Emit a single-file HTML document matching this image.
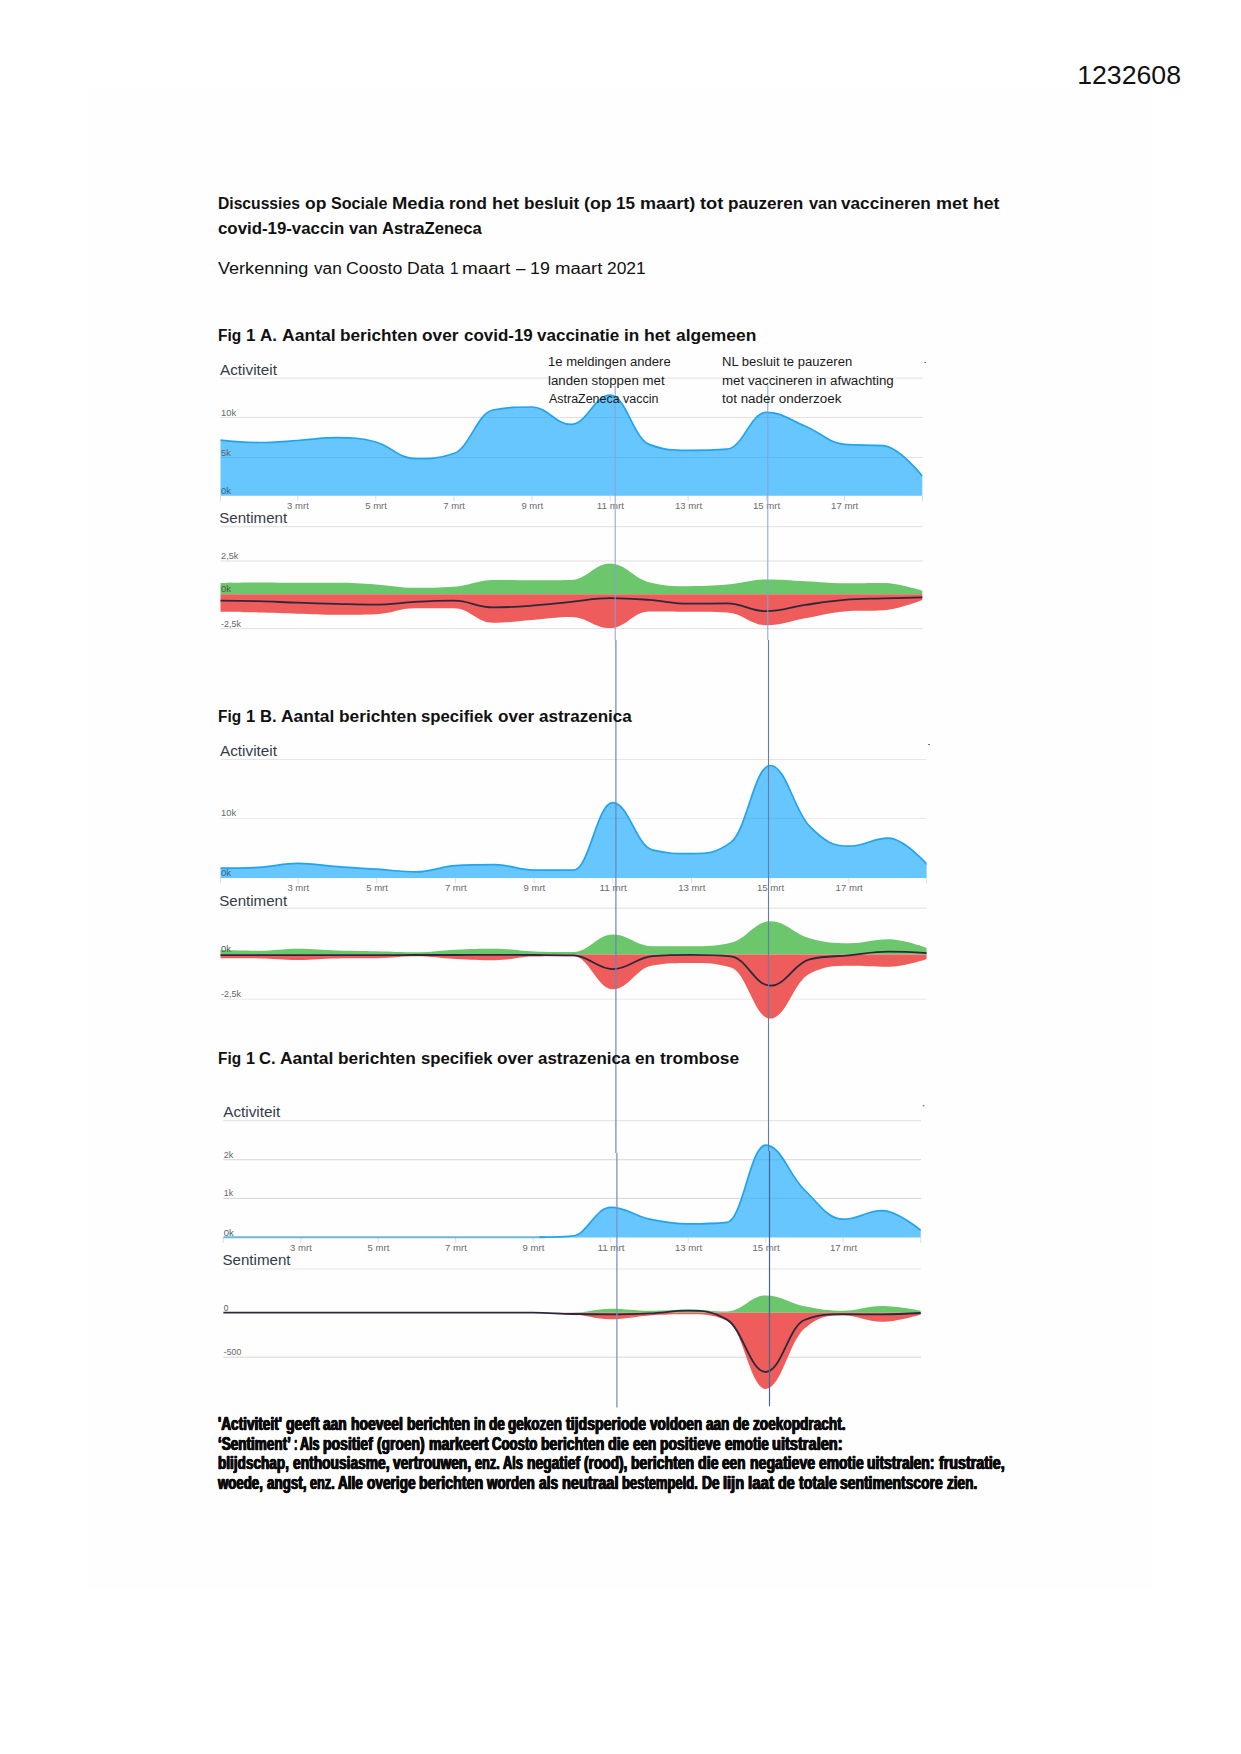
<!DOCTYPE html>
<html lang="nl"><head><meta charset="utf-8"><title>Discussies op Sociale Media - AstraZeneca</title>
<style>
html,body{margin:0;padding:0;background:#fff}
body{width:1241px;height:1754px;position:relative;overflow:hidden;font-family:"Liberation Sans",sans-serif;color:#111}
.page{position:absolute;left:0;top:0;width:1241px;height:1754px}
.ln{position:absolute;left:0;margin:0;padding:0;white-space:pre;font-weight:400;width:1241px}
.ln span{position:absolute;top:0;display:block;transform-origin:0 0;white-space:pre}
.ann{color:#1a1a1a}
.imp{color:#0b0b0b;-webkit-text-stroke:0.55px #0b0b0b;text-shadow:0.6px 0 0 #0b0b0b,-0.6px 0 0 #0b0b0b}
svg{position:absolute;left:0;top:0}
.scan{position:absolute;left:88px;top:89px;width:1065px;height:1501px;background:#fefefe}
svg text{font-family:"Liberation Sans",sans-serif}
</style></head><body><main class="page">
<div class="scan"></div>
<svg width="1241" height="1754" viewBox="0 0 1241 1754">
<g id="chartA">
<clipPath id="clipA"><rect x="220.5" y="348.2" width="702.1" height="320"/></clipPath>
<path d="M220.5 378.2H922.6" stroke="#e6e6e6" stroke-width="1.2"/>
<path d="M220.5 417.5H922.6" stroke="#dadada" stroke-width="0.85"/>
<path d="M220.5 457.5H922.6" stroke="#dadada" stroke-width="0.85"/>
<path d="M220.5 526.7H922.6" stroke="#e6e6e6" stroke-width="1.2"/>
<path d="M220.5 561H922.6" stroke="#dadada" stroke-width="0.85"/>
<path d="M220.5 628.6H922.6" stroke="#dadada" stroke-width="0.85"/>
<path d="M220.5 495.7v5.5M297.7 495.7v5.5M375.8 495.7v5.5M453.9 495.7v5.5M532.0 495.7v5.5M610.1 495.7v5.5M688.2 495.7v5.5M766.3 495.7v5.5M844.4 495.7v5.5M922.5 495.7v5.5" stroke="#cfd6e0" stroke-width="0.8" fill="none"/>
<g clip-path="url(#clipA)">
<clipPath id="aclipA"><path d="M219.6 440.0C219.6 440.0 243.0 442.5 258.6 442.5C274.3 442.5 282.1 441.5 297.7 440.5C313.3 439.5 321.1 437.7 336.8 437.7C352.4 437.7 360.2 437.8 375.8 442.0C391.4 446.2 399.2 458.7 414.9 458.7C430.5 458.7 438.3 458.7 453.9 453.5C469.5 448.3 477.3 413.0 492.9 410.0C508.6 407.0 516.4 407.0 532.0 407.0C547.6 407.0 555.4 424.4 571.0 424.4C586.7 424.4 594.5 395.0 610.1 395.0C625.7 395.0 633.5 438.4 649.1 444.4C664.8 450.4 672.6 450.4 688.2 450.4C703.8 450.4 711.6 450.4 727.2 449.2C742.9 448.0 750.7 412.3 766.3 412.3C781.9 412.3 789.7 419.8 805.4 426.2C821.0 432.6 828.8 443.1 844.4 444.4C860.0 445.7 867.8 444.4 883.4 445.7C899.1 447.0 922.5 476.2 922.5 476.2L922.5 495.7L219.6 495.7Z"/></clipPath>
<path d="M219.6 440.0C219.6 440.0 243.0 442.5 258.6 442.5C274.3 442.5 282.1 441.5 297.7 440.5C313.3 439.5 321.1 437.7 336.8 437.7C352.4 437.7 360.2 437.8 375.8 442.0C391.4 446.2 399.2 458.7 414.9 458.7C430.5 458.7 438.3 458.7 453.9 453.5C469.5 448.3 477.3 413.0 492.9 410.0C508.6 407.0 516.4 407.0 532.0 407.0C547.6 407.0 555.4 424.4 571.0 424.4C586.7 424.4 594.5 395.0 610.1 395.0C625.7 395.0 633.5 438.4 649.1 444.4C664.8 450.4 672.6 450.4 688.2 450.4C703.8 450.4 711.6 450.4 727.2 449.2C742.9 448.0 750.7 412.3 766.3 412.3C781.9 412.3 789.7 419.8 805.4 426.2C821.0 432.6 828.8 443.1 844.4 444.4C860.0 445.7 867.8 444.4 883.4 445.7C899.1 447.0 922.5 476.2 922.5 476.2L922.5 495.7L219.6 495.7Z" fill="#67c6fd"/>
<path d="M220.5 417.5H922.6" stroke="#3f9fd6" stroke-opacity="0.3" stroke-width="0.9" clip-path="url(#aclipA)"/>
<path d="M220.5 457.5H922.6" stroke="#3f9fd6" stroke-opacity="0.3" stroke-width="0.9" clip-path="url(#aclipA)"/>
<path d="M219.6 440.0C219.6 440.0 243.0 442.5 258.6 442.5C274.3 442.5 282.1 441.5 297.7 440.5C313.3 439.5 321.1 437.7 336.8 437.7C352.4 437.7 360.2 437.8 375.8 442.0C391.4 446.2 399.2 458.7 414.9 458.7C430.5 458.7 438.3 458.7 453.9 453.5C469.5 448.3 477.3 413.0 492.9 410.0C508.6 407.0 516.4 407.0 532.0 407.0C547.6 407.0 555.4 424.4 571.0 424.4C586.7 424.4 594.5 395.0 610.1 395.0C625.7 395.0 633.5 438.4 649.1 444.4C664.8 450.4 672.6 450.4 688.2 450.4C703.8 450.4 711.6 450.4 727.2 449.2C742.9 448.0 750.7 412.3 766.3 412.3C781.9 412.3 789.7 419.8 805.4 426.2C821.0 432.6 828.8 443.1 844.4 444.4C860.0 445.7 867.8 444.4 883.4 445.7C899.1 447.0 922.5 476.2 922.5 476.2" fill="none" stroke="#23a3ee" stroke-width="1.7" stroke-linejoin="round"/>
<path d="M219.6 582.9C219.6 582.9 243.0 582.4 258.6 582.4C274.3 582.4 282.1 582.7 297.7 582.7C313.3 582.7 321.1 582.7 336.8 582.7C352.4 582.7 360.2 583.4 375.8 584.4C391.4 585.4 399.2 587.7 414.9 587.7C430.5 587.7 438.3 587.7 453.9 586.7C469.5 585.7 477.3 579.9 492.9 579.9C508.6 579.9 516.4 580.2 532.0 580.2C547.6 580.2 555.4 580.2 571.0 579.9C586.7 579.6 594.5 563.4 610.1 563.4C625.7 563.4 633.5 578.2 649.1 582.2C664.8 586.2 672.6 586.2 688.2 586.2C703.8 586.2 711.6 585.9 727.2 584.6C742.9 583.3 750.7 579.5 766.3 579.5C781.9 579.5 789.7 580.5 805.4 581.2C821.0 581.9 828.8 583.2 844.4 583.2C860.0 583.2 867.8 582.9 883.4 582.9C899.1 582.9 922.5 590.7 922.5 590.7L922.5 594.2L219.6 594.2Z" fill="#6cc66c"/>
<path d="M219.6 611.7C219.6 611.7 243.0 612.0 258.6 612.4C274.3 612.8 282.1 613.2 297.7 613.7C313.3 614.2 321.1 614.7 336.8 614.7C352.4 614.7 360.2 614.7 375.8 614.2C391.4 613.7 399.2 608.2 414.9 608.2C430.5 608.2 438.3 608.2 453.9 608.2C469.5 608.2 477.3 622.7 492.9 622.7C508.6 622.7 516.4 621.1 532.0 619.9C547.6 618.7 555.4 616.9 571.0 616.9C586.7 616.9 594.5 628.1 610.1 628.1C625.7 628.1 633.5 611.4 649.1 611.4C664.8 611.4 672.6 611.5 688.2 611.7C703.8 611.9 711.6 611.7 727.2 612.4C742.9 613.1 750.7 625.2 766.3 625.2C781.9 625.2 789.7 621.0 805.4 618.2C821.0 615.4 828.8 612.6 844.4 611.4C860.0 610.2 867.8 611.4 883.4 610.2C899.1 609.0 922.5 599.9 922.5 599.9L922.5 594.2L219.6 594.2Z" fill="#ee5c5c"/>
<path d="M219.6 600.7C219.6 600.7 243.0 600.8 258.6 601.2C274.3 601.6 282.1 602.2 297.7 602.7C313.3 603.2 321.1 603.5 336.8 603.9C352.4 604.3 360.2 604.7 375.8 604.7C391.4 604.7 399.2 602.7 414.9 601.9C430.5 601.1 438.3 600.7 453.9 600.7C469.5 600.7 477.3 607.4 492.9 607.4C508.6 607.4 516.4 606.8 532.0 605.7C547.6 604.6 555.4 603.4 571.0 601.9C586.7 600.4 594.5 598.2 610.1 598.2C625.7 598.2 633.5 598.8 649.1 599.9C664.8 601.0 672.6 603.7 688.2 603.7C703.8 603.7 711.6 603.4 727.2 603.4C742.9 603.4 750.7 611.2 766.3 611.2C781.9 611.2 789.7 607.2 805.4 604.9C821.0 602.6 828.8 601.2 844.4 599.9C860.0 598.6 867.8 598.9 883.4 598.4C899.1 597.9 922.5 597.4 922.5 597.4" fill="none" stroke="#2a2a3c" stroke-width="1.8"/>
</g>
<text x="220.0" y="374.5" font-size="14.3" fill="#333c4a" text-anchor="start" textLength="57" lengthAdjust="spacingAndGlyphs">Activiteit</text>
<text x="219.2" y="523.2" font-size="14.3" fill="#333c4a" text-anchor="start" textLength="68" lengthAdjust="spacingAndGlyphs">Sentiment</text>
<text x="221.1" y="415.5" font-size="8.4" fill="#666" text-anchor="start" textLength="15" lengthAdjust="spacingAndGlyphs">10k</text>
<text x="221.1" y="455.5" font-size="8.4" fill="#666" text-anchor="start" textLength="9.8" lengthAdjust="spacingAndGlyphs">5k</text>
<text x="221.1" y="493.7" font-size="8.4" fill="#3f6178" text-anchor="start" textLength="10" lengthAdjust="spacingAndGlyphs">0k</text>
<text x="221.1" y="559.0" font-size="8.4" fill="#666" text-anchor="start" textLength="17.2" lengthAdjust="spacingAndGlyphs">2,5k</text>
<text x="221.1" y="626.6" font-size="8.4" fill="#666" text-anchor="start" textLength="19.8" lengthAdjust="spacingAndGlyphs">-2,5k</text>
<text x="221.1" y="592.2" font-size="8.4" fill="#4c5a4c" text-anchor="start" textLength="10" lengthAdjust="spacingAndGlyphs">0k</text>
<text x="287.1" y="509.0" font-size="9.1" fill="#6b6b6b" text-anchor="start" textLength="21.7" lengthAdjust="spacingAndGlyphs">3 mrt</text>
<text x="365.2" y="509.0" font-size="9.1" fill="#6b6b6b" text-anchor="start" textLength="21.7" lengthAdjust="spacingAndGlyphs">5 mrt</text>
<text x="443.3" y="509.0" font-size="9.1" fill="#6b6b6b" text-anchor="start" textLength="21.7" lengthAdjust="spacingAndGlyphs">7 mrt</text>
<text x="521.4" y="509.0" font-size="9.1" fill="#6b6b6b" text-anchor="start" textLength="21.7" lengthAdjust="spacingAndGlyphs">9 mrt</text>
<text x="596.8" y="509.0" font-size="9.1" fill="#6b6b6b" text-anchor="start" textLength="27.2" lengthAdjust="spacingAndGlyphs">11 mrt</text>
<text x="674.9" y="509.0" font-size="9.1" fill="#6b6b6b" text-anchor="start" textLength="27.2" lengthAdjust="spacingAndGlyphs">13 mrt</text>
<text x="753.0" y="509.0" font-size="9.1" fill="#6b6b6b" text-anchor="start" textLength="27.2" lengthAdjust="spacingAndGlyphs">15 mrt</text>
<text x="831.1" y="509.0" font-size="9.1" fill="#6b6b6b" text-anchor="start" textLength="27.2" lengthAdjust="spacingAndGlyphs">17 mrt</text>
<rect x="924.5" y="362.0" width="1.6" height="1" fill="#555"/>
</g>
<g id="chartB">
<clipPath id="clipB"><rect x="220.5" y="729.5" width="706.1" height="320"/></clipPath>
<path d="M220.5 759.5H926.6" stroke="#e6e6e6" stroke-width="1.2"/>
<path d="M220.5 818.4H926.6" stroke="#e2e2e2" stroke-width="0.75"/>
<path d="M220.5 908.2H926.6" stroke="#e6e6e6" stroke-width="1.2"/>
<path d="M220.5 999.2H926.6" stroke="#e2e2e2" stroke-width="0.75"/>
<path d="M220.5 877.9v5.5M298.0 877.9v5.5M376.7 877.9v5.5M455.4 877.9v5.5M534.1 877.9v5.5M612.8 877.9v5.5M691.5 877.9v5.5M770.2 877.9v5.5M848.9 877.9v5.5M926.6 877.9v5.5" stroke="#cfd6e0" stroke-width="0.8" fill="none"/>
<g clip-path="url(#clipB)">
<clipPath id="aclipB"><path d="M219.3 868.2C219.3 868.2 242.9 868.2 258.7 867.4C274.4 866.6 282.3 863.4 298.0 863.4C313.7 863.4 321.6 865.5 337.4 866.7C353.1 867.9 361.0 868.2 376.7 869.2C392.4 870.2 400.3 871.9 416.1 871.9C431.8 871.9 439.7 866.7 455.4 865.7C471.1 864.7 479.0 864.7 494.8 864.7C510.5 864.7 518.4 870.1 534.1 870.1C549.8 870.1 557.7 870.1 573.5 870.1C589.2 870.1 597.1 802.7 612.8 802.7C628.5 802.7 636.4 846.1 652.2 849.9C667.9 853.7 675.8 853.7 691.5 853.7C707.2 853.7 715.1 853.7 730.9 842.4C746.6 831.1 754.5 765.5 770.2 765.5C785.9 765.5 793.8 810.1 809.5 826.2C825.3 842.3 833.2 846.2 848.9 846.2C864.6 846.2 872.5 838.2 888.2 838.2C904.0 838.2 927.6 864.9 927.6 864.9L927.6 877.9L219.3 877.9Z"/></clipPath>
<path d="M219.3 868.2C219.3 868.2 242.9 868.2 258.7 867.4C274.4 866.6 282.3 863.4 298.0 863.4C313.7 863.4 321.6 865.5 337.4 866.7C353.1 867.9 361.0 868.2 376.7 869.2C392.4 870.2 400.3 871.9 416.1 871.9C431.8 871.9 439.7 866.7 455.4 865.7C471.1 864.7 479.0 864.7 494.8 864.7C510.5 864.7 518.4 870.1 534.1 870.1C549.8 870.1 557.7 870.1 573.5 870.1C589.2 870.1 597.1 802.7 612.8 802.7C628.5 802.7 636.4 846.1 652.2 849.9C667.9 853.7 675.8 853.7 691.5 853.7C707.2 853.7 715.1 853.7 730.9 842.4C746.6 831.1 754.5 765.5 770.2 765.5C785.9 765.5 793.8 810.1 809.5 826.2C825.3 842.3 833.2 846.2 848.9 846.2C864.6 846.2 872.5 838.2 888.2 838.2C904.0 838.2 927.6 864.9 927.6 864.9L927.6 877.9L219.3 877.9Z" fill="#67c6fd"/>
<path d="M220.5 818.4H926.6" stroke="#3f9fd6" stroke-opacity="0.3" stroke-width="0.9" clip-path="url(#aclipB)"/>
<path d="M219.3 868.2C219.3 868.2 242.9 868.2 258.7 867.4C274.4 866.6 282.3 863.4 298.0 863.4C313.7 863.4 321.6 865.5 337.4 866.7C353.1 867.9 361.0 868.2 376.7 869.2C392.4 870.2 400.3 871.9 416.1 871.9C431.8 871.9 439.7 866.7 455.4 865.7C471.1 864.7 479.0 864.7 494.8 864.7C510.5 864.7 518.4 870.1 534.1 870.1C549.8 870.1 557.7 870.1 573.5 870.1C589.2 870.1 597.1 802.7 612.8 802.7C628.5 802.7 636.4 846.1 652.2 849.9C667.9 853.7 675.8 853.7 691.5 853.7C707.2 853.7 715.1 853.7 730.9 842.4C746.6 831.1 754.5 765.5 770.2 765.5C785.9 765.5 793.8 810.1 809.5 826.2C825.3 842.3 833.2 846.2 848.9 846.2C864.6 846.2 872.5 838.2 888.2 838.2C904.0 838.2 927.6 864.9 927.6 864.9" fill="none" stroke="#23a3ee" stroke-width="1.7" stroke-linejoin="round"/>
<path d="M219.3 950.0C219.3 950.0 242.9 950.7 258.7 950.7C274.4 950.7 282.3 948.7 298.0 948.7C313.7 948.7 321.6 949.9 337.4 950.4C353.1 950.9 361.0 950.8 376.7 951.2C392.4 951.6 400.3 952.2 416.1 952.2C431.8 952.2 439.7 950.4 455.4 949.7C471.1 949.0 479.0 948.8 494.8 948.8C510.5 948.8 518.4 950.9 534.1 951.4C549.8 951.9 557.7 951.9 573.5 951.9C589.2 951.9 597.1 934.5 612.8 934.5C628.5 934.5 636.4 946.2 652.2 946.2C667.9 946.2 675.8 946.2 691.5 946.2C707.2 946.2 715.1 946.2 730.9 942.7C746.6 939.2 754.5 921.2 770.2 921.2C785.9 921.2 793.8 933.8 809.5 938.2C825.3 942.6 833.2 943.2 848.9 943.2C864.6 943.2 872.5 939.2 888.2 939.2C904.0 939.2 927.6 948.2 927.6 948.2L927.6 954.4L219.3 954.4Z" fill="#6cc66c"/>
<path d="M219.3 958.2C219.3 958.2 242.9 958.2 258.7 958.4C274.4 958.6 282.3 959.9 298.0 959.9C313.7 959.9 321.6 958.6 337.4 958.4C353.1 958.2 361.0 958.4 376.7 958.2C392.4 958.0 400.3 956.2 416.1 956.2C431.8 956.2 439.7 958.1 455.4 958.9C471.1 959.7 479.0 960.2 494.8 960.2C510.5 960.2 518.4 956.6 534.1 956.4C549.8 956.2 557.7 956.2 573.5 956.2C589.2 956.2 597.1 989.2 612.8 989.2C628.5 989.2 636.4 967.9 652.2 965.4C667.9 962.9 675.8 962.9 691.5 962.9C707.2 962.9 715.1 962.9 730.9 967.4C746.6 971.9 754.5 1018.6 770.2 1018.6C785.9 1018.6 793.8 981.7 809.5 973.7C825.3 965.7 833.2 965.7 848.9 965.7C864.6 965.7 872.5 966.7 888.2 966.7C904.0 966.7 927.6 958.7 927.6 958.7L927.6 954.4L219.3 954.4Z" fill="#ee5c5c"/>
<path d="M219.3 955.2C219.3 955.2 242.9 955.2 258.7 955.2C274.4 955.2 282.3 955.2 298.0 955.2C313.7 955.2 321.6 955.2 337.4 955.2C353.1 955.2 361.0 955.2 376.7 955.2C392.4 955.2 400.3 955.0 416.1 955.0C431.8 955.0 439.7 955.0 455.4 955.0C471.1 955.0 479.0 954.9 494.8 954.9C510.5 954.9 518.4 954.9 534.1 955.0C549.8 955.1 557.7 955.0 573.5 955.4C589.2 955.8 597.1 969.2 612.8 969.2C628.5 969.2 636.4 957.5 652.2 956.2C667.9 954.9 675.8 954.9 691.5 954.9C707.2 954.9 715.1 954.9 730.9 956.4C746.6 957.9 754.5 985.7 770.2 985.7C785.9 985.7 793.8 963.4 809.5 959.4C825.3 955.4 833.2 956.9 848.9 955.4C864.6 953.9 872.5 951.7 888.2 951.7C904.0 951.7 927.6 953.2 927.6 953.2" fill="none" stroke="#2a2a3c" stroke-width="1.8"/>
</g>
<text x="220.0" y="755.5" font-size="14.3" fill="#333c4a" text-anchor="start" textLength="57" lengthAdjust="spacingAndGlyphs">Activiteit</text>
<text x="219.2" y="905.5" font-size="14.3" fill="#333c4a" text-anchor="start" textLength="68" lengthAdjust="spacingAndGlyphs">Sentiment</text>
<text x="221.1" y="816.4" font-size="8.4" fill="#666" text-anchor="start" textLength="15" lengthAdjust="spacingAndGlyphs">10k</text>
<text x="221.1" y="875.9" font-size="8.4" fill="#3f6178" text-anchor="start" textLength="10" lengthAdjust="spacingAndGlyphs">0k</text>
<text x="221.1" y="997.2" font-size="8.4" fill="#666" text-anchor="start" textLength="19.8" lengthAdjust="spacingAndGlyphs">-2,5k</text>
<text x="221.1" y="952.4" font-size="8.4" fill="#4c5a4c" text-anchor="start" textLength="10" lengthAdjust="spacingAndGlyphs">0k</text>
<text x="287.4" y="890.8" font-size="9.1" fill="#6b6b6b" text-anchor="start" textLength="21.7" lengthAdjust="spacingAndGlyphs">3 mrt</text>
<text x="366.2" y="890.8" font-size="9.1" fill="#6b6b6b" text-anchor="start" textLength="21.7" lengthAdjust="spacingAndGlyphs">5 mrt</text>
<text x="444.9" y="890.8" font-size="9.1" fill="#6b6b6b" text-anchor="start" textLength="21.7" lengthAdjust="spacingAndGlyphs">7 mrt</text>
<text x="523.5" y="890.8" font-size="9.1" fill="#6b6b6b" text-anchor="start" textLength="21.7" lengthAdjust="spacingAndGlyphs">9 mrt</text>
<text x="599.5" y="890.8" font-size="9.1" fill="#6b6b6b" text-anchor="start" textLength="27.2" lengthAdjust="spacingAndGlyphs">11 mrt</text>
<text x="678.2" y="890.8" font-size="9.1" fill="#6b6b6b" text-anchor="start" textLength="27.2" lengthAdjust="spacingAndGlyphs">13 mrt</text>
<text x="756.9" y="890.8" font-size="9.1" fill="#6b6b6b" text-anchor="start" textLength="27.2" lengthAdjust="spacingAndGlyphs">15 mrt</text>
<text x="835.6" y="890.8" font-size="9.1" fill="#6b6b6b" text-anchor="start" textLength="27.2" lengthAdjust="spacingAndGlyphs">17 mrt</text>
<rect x="928.2" y="744.0" width="1.6" height="1" fill="#555"/>
</g>
<g id="chartC">
<clipPath id="clipC"><rect x="223.2" y="1090.7" width="697.8" height="320"/></clipPath>
<path d="M223.2 1120.7H921" stroke="#e6e6e6" stroke-width="1.2"/>
<path d="M223.2 1159.7H921" stroke="#d4d4d4" stroke-width="0.95"/>
<path d="M223.2 1198.4H921" stroke="#d4d4d4" stroke-width="0.95"/>
<path d="M223.2 1269H921" stroke="#e6e6e6" stroke-width="1.2"/>
<path d="M223.2 1357.2H921" stroke="#d4d4d4" stroke-width="0.95"/>
<path d="M223.2 1237.6v5.5M300.7 1237.6v5.5M378.2 1237.6v5.5M455.7 1237.6v5.5M533.2 1237.6v5.5M610.7 1237.6v5.5M688.2 1237.6v5.5M765.7 1237.6v5.5M843.2 1237.6v5.5M920.7 1237.6v5.5" stroke="#cfd6e0" stroke-width="0.8" fill="none"/>
<g clip-path="url(#clipC)">
<clipPath id="aclipC"><path d="M223.2 1237.4C223.2 1237.4 246.4 1237.4 261.9 1237.4C277.4 1237.4 285.2 1237.4 300.7 1237.4C316.2 1237.4 323.9 1237.4 339.4 1237.4C354.9 1237.4 362.7 1237.4 378.2 1237.4C393.7 1237.4 401.4 1237.4 416.9 1237.4C432.4 1237.4 440.2 1237.4 455.7 1237.4C471.2 1237.4 478.9 1237.4 494.4 1237.4C509.9 1237.4 517.7 1237.4 533.2 1237.2C548.7 1237.0 556.5 1237.2 572.0 1236.1C587.5 1235.0 595.2 1207.4 610.7 1207.4C626.2 1207.4 634.0 1215.9 649.5 1219.2C665.0 1222.5 672.7 1223.9 688.2 1223.9C703.7 1223.9 711.5 1223.9 727.0 1222.4C742.5 1220.9 750.2 1145.2 765.7 1145.2C781.2 1145.2 789.0 1175.2 804.5 1190.0C820.0 1204.8 827.7 1219.2 843.2 1219.2C858.7 1219.2 866.5 1210.7 882.0 1210.7C897.5 1210.7 920.7 1230.4 920.7 1230.4L920.7 1237.6L223.2 1237.6Z"/></clipPath>
<path d="M223.2 1237.4C223.2 1237.4 246.4 1237.4 261.9 1237.4C277.4 1237.4 285.2 1237.4 300.7 1237.4C316.2 1237.4 323.9 1237.4 339.4 1237.4C354.9 1237.4 362.7 1237.4 378.2 1237.4C393.7 1237.4 401.4 1237.4 416.9 1237.4C432.4 1237.4 440.2 1237.4 455.7 1237.4C471.2 1237.4 478.9 1237.4 494.4 1237.4C509.9 1237.4 517.7 1237.4 533.2 1237.2C548.7 1237.0 556.5 1237.2 572.0 1236.1C587.5 1235.0 595.2 1207.4 610.7 1207.4C626.2 1207.4 634.0 1215.9 649.5 1219.2C665.0 1222.5 672.7 1223.9 688.2 1223.9C703.7 1223.9 711.5 1223.9 727.0 1222.4C742.5 1220.9 750.2 1145.2 765.7 1145.2C781.2 1145.2 789.0 1175.2 804.5 1190.0C820.0 1204.8 827.7 1219.2 843.2 1219.2C858.7 1219.2 866.5 1210.7 882.0 1210.7C897.5 1210.7 920.7 1230.4 920.7 1230.4L920.7 1237.6L223.2 1237.6Z" fill="#67c6fd"/>
<path d="M223.2 1159.7H921" stroke="#3f9fd6" stroke-opacity="0.3" stroke-width="0.9" clip-path="url(#aclipC)"/>
<path d="M223.2 1198.4H921" stroke="#3f9fd6" stroke-opacity="0.3" stroke-width="0.9" clip-path="url(#aclipC)"/>
<path d="M223.2 1237.3H545.2" stroke="#6db6dc" stroke-width="1.9"/>
<clipPath id="sclipC"><rect x="539.2" y="1120.7" width="381.8" height="130"/></clipPath>
<path d="M223.2 1237.4C223.2 1237.4 246.4 1237.4 261.9 1237.4C277.4 1237.4 285.2 1237.4 300.7 1237.4C316.2 1237.4 323.9 1237.4 339.4 1237.4C354.9 1237.4 362.7 1237.4 378.2 1237.4C393.7 1237.4 401.4 1237.4 416.9 1237.4C432.4 1237.4 440.2 1237.4 455.7 1237.4C471.2 1237.4 478.9 1237.4 494.4 1237.4C509.9 1237.4 517.7 1237.4 533.2 1237.2C548.7 1237.0 556.5 1237.2 572.0 1236.1C587.5 1235.0 595.2 1207.4 610.7 1207.4C626.2 1207.4 634.0 1215.9 649.5 1219.2C665.0 1222.5 672.7 1223.9 688.2 1223.9C703.7 1223.9 711.5 1223.9 727.0 1222.4C742.5 1220.9 750.2 1145.2 765.7 1145.2C781.2 1145.2 789.0 1175.2 804.5 1190.0C820.0 1204.8 827.7 1219.2 843.2 1219.2C858.7 1219.2 866.5 1210.7 882.0 1210.7C897.5 1210.7 920.7 1230.4 920.7 1230.4" fill="none" stroke="#23a3ee" stroke-width="1.7" stroke-linejoin="round" clip-path="url(#sclipC)"/>
<path d="M223.2 1312.7C223.2 1312.7 246.4 1312.7 261.9 1312.7C277.4 1312.7 285.2 1312.7 300.7 1312.7C316.2 1312.7 323.9 1312.7 339.4 1312.7C354.9 1312.7 362.7 1312.7 378.2 1312.7C393.7 1312.7 401.4 1312.7 416.9 1312.7C432.4 1312.7 440.2 1312.7 455.7 1312.7C471.2 1312.7 478.9 1312.7 494.4 1312.7C509.9 1312.7 517.7 1312.7 533.2 1312.7C548.7 1312.7 556.5 1312.7 572.0 1312.7C587.5 1312.7 595.2 1308.7 610.7 1308.7C626.2 1308.7 634.0 1310.7 649.5 1310.7C665.0 1310.7 672.7 1309.4 688.2 1309.4C703.7 1309.4 711.5 1311.5 727.0 1311.5C742.5 1311.5 750.2 1295.5 765.7 1295.5C781.2 1295.5 789.0 1303.2 804.5 1306.2C820.0 1309.2 827.7 1310.7 843.2 1310.7C858.7 1310.7 866.5 1306.0 882.0 1306.0C897.5 1306.0 920.7 1310.7 920.7 1310.7L920.7 1312.7L223.2 1312.7Z" fill="#6cc66c"/>
<path d="M223.2 1312.7C223.2 1312.7 246.4 1312.7 261.9 1312.7C277.4 1312.7 285.2 1312.7 300.7 1312.7C316.2 1312.7 323.9 1312.7 339.4 1312.7C354.9 1312.7 362.7 1312.7 378.2 1312.7C393.7 1312.7 401.4 1312.7 416.9 1312.7C432.4 1312.7 440.2 1312.7 455.7 1312.7C471.2 1312.7 478.9 1312.7 494.4 1312.7C509.9 1312.7 517.7 1312.7 533.2 1312.7C548.7 1312.7 556.5 1312.7 572.0 1314.0C587.5 1315.3 595.2 1319.2 610.7 1319.2C626.2 1319.2 634.0 1316.4 649.5 1315.4C665.0 1314.4 672.7 1314.2 688.2 1314.2C703.7 1314.2 711.5 1314.2 727.0 1320.4C742.5 1326.6 750.2 1388.9 765.7 1388.9C781.2 1388.9 789.0 1341.8 804.5 1328.6C820.0 1315.4 827.7 1315.4 843.2 1315.4C858.7 1315.4 866.5 1321.7 882.0 1321.7C897.5 1321.7 920.7 1314.4 920.7 1314.4L920.7 1312.7L223.2 1312.7Z" fill="#ee5c5c"/>
<path d="M223.2 1312.7C223.2 1312.7 246.4 1312.7 261.9 1312.7C277.4 1312.7 285.2 1312.7 300.7 1312.7C316.2 1312.7 323.9 1312.7 339.4 1312.7C354.9 1312.7 362.7 1312.7 378.2 1312.7C393.7 1312.7 401.4 1312.7 416.9 1312.7C432.4 1312.7 440.2 1312.7 455.7 1312.7C471.2 1312.7 478.9 1312.7 494.4 1312.7C509.9 1312.7 517.7 1312.7 533.2 1312.7C548.7 1312.7 556.5 1313.7 572.0 1314.0C587.5 1314.3 595.2 1314.4 610.7 1314.4C626.2 1314.4 634.0 1314.1 649.5 1313.4C665.0 1312.7 672.7 1310.7 688.2 1310.7C703.7 1310.7 711.5 1310.7 727.0 1319.6C742.5 1328.5 750.2 1372.0 765.7 1372.0C781.2 1372.0 789.0 1325.8 804.5 1320.0C820.0 1314.2 827.7 1314.2 843.2 1314.2C858.7 1314.2 866.5 1314.4 882.0 1314.4C897.5 1314.4 920.7 1313.0 920.7 1313.0" fill="none" stroke="#2a2a3c" stroke-width="1.8"/>
</g>
<text x="223.2" y="1117.0" font-size="14.3" fill="#333c4a" text-anchor="start" textLength="57" lengthAdjust="spacingAndGlyphs">Activiteit</text>
<text x="222.5" y="1265.0" font-size="14.3" fill="#333c4a" text-anchor="start" textLength="68" lengthAdjust="spacingAndGlyphs">Sentiment</text>
<text x="223.8" y="1157.7" font-size="8.4" fill="#666" text-anchor="start" textLength="9.6" lengthAdjust="spacingAndGlyphs">2k</text>
<text x="223.8" y="1196.4" font-size="8.4" fill="#666" text-anchor="start" textLength="9.2" lengthAdjust="spacingAndGlyphs">1k</text>
<text x="223.8" y="1235.6" font-size="8.4" fill="#3f6178" text-anchor="start" textLength="10" lengthAdjust="spacingAndGlyphs">0k</text>
<text x="223.8" y="1355.2" font-size="8.4" fill="#666" text-anchor="start" textLength="17.5" lengthAdjust="spacingAndGlyphs">-500</text>
<text x="223.8" y="1310.7" font-size="8.4" fill="#4c5a4c" text-anchor="start" textLength="4.6" lengthAdjust="spacingAndGlyphs">0</text>
<text x="290.1" y="1251.0" font-size="9.1" fill="#6b6b6b" text-anchor="start" textLength="21.7" lengthAdjust="spacingAndGlyphs">3 mrt</text>
<text x="367.6" y="1251.0" font-size="9.1" fill="#6b6b6b" text-anchor="start" textLength="21.7" lengthAdjust="spacingAndGlyphs">5 mrt</text>
<text x="445.1" y="1251.0" font-size="9.1" fill="#6b6b6b" text-anchor="start" textLength="21.7" lengthAdjust="spacingAndGlyphs">7 mrt</text>
<text x="522.6" y="1251.0" font-size="9.1" fill="#6b6b6b" text-anchor="start" textLength="21.7" lengthAdjust="spacingAndGlyphs">9 mrt</text>
<text x="597.4" y="1251.0" font-size="9.1" fill="#6b6b6b" text-anchor="start" textLength="27.2" lengthAdjust="spacingAndGlyphs">11 mrt</text>
<text x="674.9" y="1251.0" font-size="9.1" fill="#6b6b6b" text-anchor="start" textLength="27.2" lengthAdjust="spacingAndGlyphs">13 mrt</text>
<text x="752.4" y="1251.0" font-size="9.1" fill="#6b6b6b" text-anchor="start" textLength="27.2" lengthAdjust="spacingAndGlyphs">15 mrt</text>
<text x="829.9" y="1251.0" font-size="9.1" fill="#6b6b6b" text-anchor="start" textLength="27.2" lengthAdjust="spacingAndGlyphs">17 mrt</text>
<rect x="922.8" y="1105.2" width="1.6" height="1" fill="#555"/>
</g>
<g fill="none">
<path d="M615.2 386V640.3M767.8 385V640" stroke="#86a2d9" stroke-width="1"/>
<path d="M615.9 640V1153" stroke="#6a85b8" stroke-width="1.2"/>
<path d="M768.5 640V1151" stroke="#647ea8" stroke-width="1.1"/>
<path d="M616.9 1153V1407.5" stroke="#7a93c0" stroke-width="1.3"/>
<path d="M769.5 1151V1406.3" stroke="#46668f" stroke-width="1.2"/>
</g>
</svg>
<div id="num" class="ln num" style="top:58.96px;height:32.0px;font-size:26.67px;line-height:32.0px;font-weight:400"><span id="num_0" style="left:1077.20px">1232608</span></div>
<h1 id="t1" class="ln " style="top:195.43px;height:18.72px;font-size:15.6px;line-height:18.72px;font-weight:700"><span id="t1_0" style="left:218.38px;transform:scaleX(1.0043)">Discussies </span><span id="t1_1" style="left:304.58px;transform:scaleX(1.1201)">op </span><span id="t1_2" style="left:330.78px;transform:scaleX(1.0347)">Sociale </span><span id="t1_3" style="left:391.78px;transform:scaleX(1.1827)">Media </span><span id="t1_4" style="left:449.18px;transform:scaleX(1.0902)">rond </span><span id="t1_5" style="left:491.68px;transform:scaleX(1.1502)">het </span><span id="t1_6" style="left:523.58px;transform:scaleX(1.0990)">besluit </span><span id="t1_7" style="left:583.58px;transform:scaleX(1.1372)">(op </span><span id="t1_8" style="left:616.08px;transform:scaleX(1.0928)">15 </span><span id="t1_9" style="left:639.78px;transform:scaleX(1.1577)">maart) </span><span id="t1_10" style="left:699.98px;transform:scaleX(1.1753)">tot </span><span id="t1_11" style="left:728.48px;transform:scaleX(1.1003)">pauzeren </span><span id="t1_12" style="left:808.58px;transform:scaleX(1.0512)">van </span><span id="t1_13" style="left:841.38px;transform:scaleX(1.1010)">vaccineren </span><span id="t1_14" style="left:935.88px;transform:scaleX(1.1534)">met </span><span id="t1_15" style="left:972.88px;transform:scaleX(1.1297)">het</span></h1>
<h1 id="t2" class="ln " style="top:220.43px;height:18.72px;font-size:15.6px;line-height:18.72px;font-weight:700"><span id="t2_0" style="left:218.38px;transform:scaleX(1.0788)">covid-19-vaccin </span><span id="t2_1" style="left:349.28px;transform:scaleX(1.0640)">van </span><span id="t2_2" style="left:382.48px;transform:scaleX(1.0664)">AstraZeneca</span></h1>
<p id="sub" class="ln " style="top:260.43px;height:18.72px;font-size:15.6px;line-height:18.72px;font-weight:400"><span id="sub_0" style="left:218.38px;transform:scaleX(1.1581)">Verkenning </span><span id="sub_1" style="left:313.78px;transform:scaleX(1.1023)">van </span><span id="sub_2" style="left:346.28px;transform:scaleX(1.1386)">Coosto </span><span id="sub_3" style="left:407.48px;transform:scaleX(1.1319)">Data </span><span id="sub_4" style="left:449.68px;transform:scaleX(0.9834)">1 </span><span id="sub_5" style="left:462.48px;transform:scaleX(1.2103)">maart </span><span id="sub_6" style="left:515.98px;transform:scaleX(1.0910)">– </span><span id="sub_7" style="left:530.18px;transform:scaleX(1.1389)">19 </span><span id="sub_8" style="left:554.88px;transform:scaleX(1.1900)">maart </span><span id="sub_9" style="left:607.48px;transform:scaleX(1.1159)">2021</span></p>
<h2 id="fa" class="ln " style="top:327.23px;height:18.72px;font-size:15.6px;line-height:18.72px;font-weight:700"><span id="fa_0" style="left:218.38px;transform:scaleX(0.9921)">Fig </span><span id="fa_1" style="left:245.88px;transform:scaleX(1.0910)">1 </span><span id="fa_2" style="left:260.08px;transform:scaleX(1.0884)">A. </span><span id="fa_3" style="left:281.78px;transform:scaleX(1.1250)">Aantal </span><span id="fa_4" style="left:340.28px;transform:scaleX(1.1029)">berichten </span><span id="fa_5" style="left:422.48px;transform:scaleX(1.1078)">over </span><span id="fa_6" style="left:463.78px;transform:scaleX(1.0871)">covid-19 </span><span id="fa_7" style="left:537.28px;transform:scaleX(1.0907)">vaccinatie </span><span id="fa_8" style="left:624.28px;transform:scaleX(1.0987)">in </span><span id="fa_9" style="left:644.28px;transform:scaleX(1.1322)">het </span><span id="fa_10" style="left:675.68px;transform:scaleX(1.1163)">algemeen</span></h2>
<h2 id="fb" class="ln " style="top:707.63px;height:18.72px;font-size:15.6px;line-height:18.72px;font-weight:700"><span id="fb_0" style="left:218.38px;transform:scaleX(0.9849)">Fig </span><span id="fb_1" style="left:245.68px;transform:scaleX(1.0679)">1 </span><span id="fb_2" style="left:259.58px;transform:scaleX(1.0633)">B. </span><span id="fb_3" style="left:280.78px;transform:scaleX(1.1173)">Aantal </span><span id="fb_4" style="left:338.88px;transform:scaleX(1.1083)">berichten </span><span id="fb_5" style="left:421.48px;transform:scaleX(1.0721)">specifiek </span><span id="fb_6" style="left:497.68px;transform:scaleX(1.0997)">over </span><span id="fb_7" style="left:538.68px;transform:scaleX(1.0915)">astrazenica</span></h2>
<h2 id="fc" class="ln " style="top:1050.23px;height:18.72px;font-size:15.6px;line-height:18.72px;font-weight:700"><span id="fc_0" style="left:218.38px;transform:scaleX(0.9849)">Fig </span><span id="fc_1" style="left:245.68px;transform:scaleX(1.0372)">1 </span><span id="fc_2" style="left:259.18px;transform:scaleX(1.0633)">C. </span><span id="fc_3" style="left:280.38px;transform:scaleX(1.1173)">Aantal </span><span id="fc_4" style="left:338.48px;transform:scaleX(1.1069)">berichten </span><span id="fc_5" style="left:420.98px;transform:scaleX(1.0721)">specifiek </span><span id="fc_6" style="left:497.18px;transform:scaleX(1.1024)">over </span><span id="fc_7" style="left:538.28px;transform:scaleX(1.0863)">astrazenica </span><span id="fc_8" style="left:635.28px;transform:scaleX(1.1007)">en </span><span id="fc_9" style="left:660.08px;transform:scaleX(1.1134)">trombose</span></h2>
<p id="a1" class="ln ann" style="top:355.04px;height:14.4px;font-size:12.0px;line-height:14.4px;font-weight:400"><span id="a1_0" style="left:548.12px;transform:scaleX(1.0879)">1e meldingen andere</span></p>
<p id="a2" class="ln ann" style="top:373.94px;height:14.4px;font-size:12.0px;line-height:14.4px;font-weight:400"><span id="a2_0" style="left:548.32px;transform:scaleX(1.1058)">landen stoppen met</span></p>
<p id="a3" class="ln ann" style="top:392.44px;height:14.4px;font-size:12.0px;line-height:14.4px;font-weight:400"><span id="a3_0" style="left:549.02px;transform:scaleX(1.0379)">AstraZeneca vaccin</span></p>
<p id="b1" class="ln ann" style="top:355.04px;height:14.4px;font-size:12.0px;line-height:14.4px;font-weight:400"><span id="b1_0" style="left:722.42px;transform:scaleX(1.0881)">NL besluit te pauzeren</span></p>
<p id="b2" class="ln ann" style="top:373.94px;height:14.4px;font-size:12.0px;line-height:14.4px;font-weight:400"><span id="b2_0" style="left:722.42px;transform:scaleX(1.1100)">met vaccineren in afwachting</span></p>
<p id="b3" class="ln ann" style="top:392.44px;height:14.4px;font-size:12.0px;line-height:14.4px;font-weight:400"><span id="b3_0" style="left:722.42px;transform:scaleX(1.1183)">tot nader onderzoek</span></p>
<p id="n1" class="ln imp" style="top:1413.76px;height:21.6px;font-size:18.0px;line-height:21.6px;font-weight:700"><span id="n1_0" style="left:218.28px;transform:scaleX(0.7558)">'Activiteit' </span><span id="n1_1" style="left:285.98px;transform:scaleX(0.7810)">geeft </span><span id="n1_2" style="left:323.48px;transform:scaleX(0.7605)">aan </span><span id="n1_3" style="left:350.88px;transform:scaleX(0.7731)">hoeveel </span><span id="n1_4" style="left:406.58px;transform:scaleX(0.7788)">berichten </span><span id="n1_5" style="left:473.58px;transform:scaleX(0.7190)">in </span><span id="n1_6" style="left:488.68px;transform:scaleX(0.7572)">de </span><span id="n1_7" style="left:508.38px;transform:scaleX(0.7477)">gekozen </span><span id="n1_8" style="left:565.98px;transform:scaleX(0.7840)">tijdsperiode </span><span id="n1_9" style="left:649.88px;transform:scaleX(0.7566)">voldoen </span><span id="n1_10" style="left:705.88px;transform:scaleX(0.7549)">aan </span><span id="n1_11" style="left:733.08px;transform:scaleX(0.7688)">de </span><span id="n1_12" style="left:753.08px;transform:scaleX(0.7582)">zoekopdracht.</span></p>
<p id="n2" class="ln imp" style="top:1433.66px;height:21.6px;font-size:18.0px;line-height:21.6px;font-weight:700"><span id="n2_0" style="left:218.28px;transform:scaleX(0.7513)">‘Sentiment’ </span><span id="n2_1" style="left:294.18px;transform:scaleX(0.5727)">: </span><span id="n2_2" style="left:300.48px;transform:scaleX(0.6966)">Als </span><span id="n2_3" style="left:323.48px;transform:scaleX(0.7781)">positief </span><span id="n2_4" style="left:377.18px;transform:scaleX(0.7672)">(groen) </span><span id="n2_5" style="left:428.58px;transform:scaleX(0.7858)">markeert </span><span id="n2_6" style="left:492.28px;transform:scaleX(0.7313)">Coosto </span><span id="n2_7" style="left:541.28px;transform:scaleX(0.7811)">berichten </span><span id="n2_8" style="left:608.48px;transform:scaleX(0.8028)">die </span><span id="n2_9" style="left:633.38px;transform:scaleX(0.7493)">een </span><span id="n2_10" style="left:660.38px;transform:scaleX(0.7756)">positieve </span><span id="n2_11" style="left:724.78px;transform:scaleX(0.7536)">emotie </span><span id="n2_12" style="left:772.28px;transform:scaleX(0.8116)">uitstralen:</span></p>
<p id="n3" class="ln imp" style="top:1453.46px;height:21.6px;font-size:18.0px;line-height:21.6px;font-weight:700"><span id="n3_0" style="left:218.28px;transform:scaleX(0.7543)">blijdschap, </span><span id="n3_1" style="left:292.98px;transform:scaleX(0.7661)">enthousiasme, </span><span id="n3_2" style="left:393.38px;transform:scaleX(0.7652)">vertrouwen, </span><span id="n3_3" style="left:475.28px;transform:scaleX(0.7047)">enz. </span><span id="n3_4" style="left:503.48px;transform:scaleX(0.7057)">Als </span><span id="n3_5" style="left:526.78px;transform:scaleX(0.7688)">negatief </span><span id="n3_6" style="left:583.68px;transform:scaleX(0.7615)">(rood), </span><span id="n3_7" style="left:630.88px;transform:scaleX(0.7788)">berichten </span><span id="n3_8" style="left:697.88px;transform:scaleX(0.7899)">die </span><span id="n3_9" style="left:722.38px;transform:scaleX(0.7577)">een </span><span id="n3_10" style="left:749.68px;transform:scaleX(0.7837)">negatieve </span><span id="n3_11" style="left:818.68px;transform:scaleX(0.7695)">emotie </span><span id="n3_12" style="left:867.18px;transform:scaleX(0.7760)">uitstralen: </span><span id="n3_13" style="left:938.58px;transform:scaleX(0.7915)">frustratie,</span></p>
<p id="n4" class="ln imp" style="top:1473.26px;height:21.6px;font-size:18.0px;line-height:21.6px;font-weight:700"><span id="n4_0" style="left:218.28px;transform:scaleX(0.7347)">woede, </span><span id="n4_1" style="left:266.78px;transform:scaleX(0.7446)">angst, </span><span id="n4_2" style="left:309.98px;transform:scaleX(0.7047)">enz. </span><span id="n4_3" style="left:338.18px;transform:scaleX(0.7497)">Alle </span><span id="n4_4" style="left:366.68px;transform:scaleX(0.7591)">overige </span><span id="n4_5" style="left:419.08px;transform:scaleX(0.7927)">berichten </span><span id="n4_6" style="left:487.28px;transform:scaleX(0.7462)">worden </span><span id="n4_7" style="left:538.78px;transform:scaleX(0.7625)">als </span><span id="n4_8" style="left:561.68px;transform:scaleX(0.8063)">neutraal </span><span id="n4_9" style="left:622.18px;transform:scaleX(0.7216)">bestempeld. </span><span id="n4_10" style="left:701.58px;transform:scaleX(0.7603)">De </span><span id="n4_11" style="left:722.88px;transform:scaleX(0.8097)">lijn </span><span id="n4_12" style="left:747.98px;transform:scaleX(0.8354)">laat </span><span id="n4_13" style="left:778.08px;transform:scaleX(0.7918)">de </span><span id="n4_14" style="left:798.68px;transform:scaleX(0.7884)">totale </span><span id="n4_15" style="left:840.48px;transform:scaleX(0.7721)">sentimentscore </span><span id="n4_16" style="left:947.08px;transform:scaleX(0.7552)">zien.</span></p>
</main></body></html>
